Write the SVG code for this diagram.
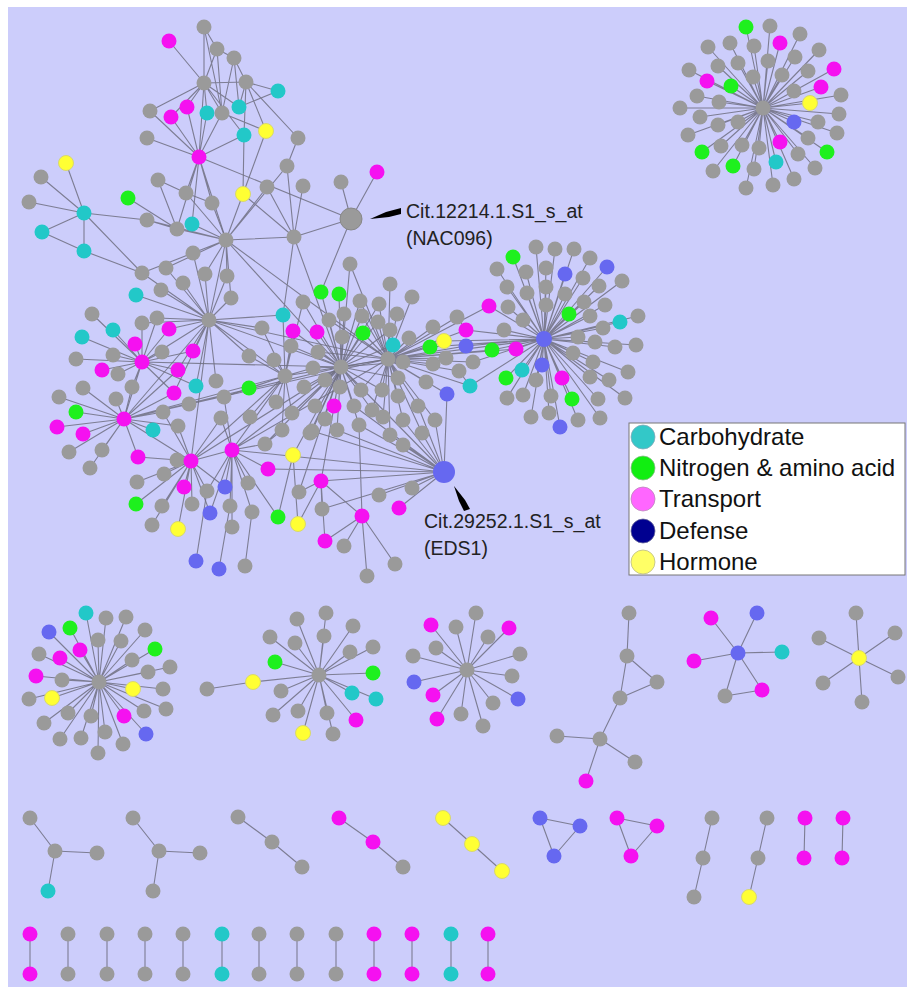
<svg xmlns="http://www.w3.org/2000/svg" width="907" height="987" viewBox="0 0 907 987">
<style>
.e{stroke:#6f6f80;stroke-width:1.1;fill:none;stroke-opacity:.85}
.g{fill:#9a9a9a}
.c{fill:#22c8c8}
.n{fill:#1ef01e}
.m{fill:#f511f0}
.b{fill:#6668f0}
.y{fill:#ffff33;stroke:#d8d870;stroke-width:1}
.t{font-family:"Liberation Sans",Arial,sans-serif;fill:#222}
.lt{font-family:"Liberation Sans",Arial,sans-serif;font-size:24px;fill:#111}
</style>
<rect x="0" y="0" width="907" height="987" fill="#fff"/>
<rect x="8" y="7" width="899" height="980" fill="#cccdfb"/>
<g id="connectors" class="e">
<path d="M204 27L204 83M204 27L217 49M204 27L222 113M169 41L204 83M217 49L234 58M217 49L204 83M217 49L222 113M234 58L246 82M234 58L222 113M234 58L239 107M204 83L246 82M204 83L187 107M204 83L207 113M204 83L222 113M204 83L239 107M204 83L150 111M204 83L244 135M246 82L278 91M246 82L239 107M246 82L244 135M246 82L266 131M239 107L278 91M150 111L199 157M187 107L199 157M171 117L199 157M207 113L199 157M222 113L199 157M147 138L199 157M244 135L199 157M204 83L199 157M244 135L243 194M266 131L243 194M222 113L266 131M298 138L246 82M298 138L287 166M171 117L204 83"/>
<path d="M199 157L186 193M199 157L212 203M199 157L226 240M199 157L351 219M199 157L177 229M199 157L192 224M84 213L66 163M84 213L41 177M84 213L29 202M84 213L42 232M84 213L84 251M84 213L147 220M84 213L142 273M42 232L84 251M84 251L142 273"/>
<path d="M147 220L177 229M147 220L226 240M158 180L177 229M128 198L177 229M186 193L226 240M212 203L226 240M177 229L226 240M192 224L226 240M243 194L226 240M267 187L226 240M294 237L226 240M193 253L226 240M205 274L226 240M227 276L226 240M231 298L226 240M209 320L226 240M166 268L226 240M142 273L226 240M287 166L226 240M243 194L294 237M267 187L294 237M303 186L294 237M287 166L294 237M351 219L294 237M294 237L341 367M294 237L283 315M186 193L212 203M158 180L186 193M351 219L341 182M351 219L377 172M351 219L321 292M350 264L341 367M350 264L388 359M226 240L341 367M226 240L388 359"/>
<path d="M209 320L231 298M209 320L183 283M209 320L161 290M209 320L136 295M209 320L142 273M209 320L166 268M209 320L193 253M209 320L205 274M209 320L227 276M209 320L262 328M209 320L193 351M209 320L169 329M209 320L157 318M209 320L142 323M209 320L216 381M209 320L196 386M209 320L174 393M209 320L178 370M209 320L249 356M209 320L285 376M209 320L341 367M209 320L388 359M209 320L124 419M209 320L191 461M209 320L142 362M209 320L283 315"/>
<path d="M142 362L135 344M142 362L113 330M142 362L82 337M142 362L92 314M142 362L76 359M142 362L102 370M142 362L118 374M142 362L113 355M142 362L142 323M142 362L157 318M142 362L169 329M142 362L162 352M142 362L178 370M142 362L193 351M142 362L174 393M142 362L132 387M142 362L124 419M142 362L196 386M142 362L341 367"/>
<path d="M124 419L59 397M124 419L76 412M124 419L57 427M124 419L83 434M124 419L69 452M124 419L102 450M124 419L90 468M124 419L138 457M124 419L116 399M124 419L132 387M124 419L83 388M124 419L163 412M124 419L189 404M124 419L178 426M124 419L153 430M124 419L191 461M124 419L285 376M124 419L341 367M124 419L388 359M124 419L178 370M124 419L174 393"/>
<path d="M191 461L164 474M191 461L184 487M191 461L207 491M191 461L225 487M191 461L192 504M191 461L162 506M191 461L136 504M191 461L152 525M191 461L178 529M191 461L177 460M191 461L138 457M191 461L232 450M191 461L221 418M191 461L178 426M191 461L163 412M191 461L137 482M191 461L341 367M191 461L285 376M191 461L210 513"/>
<path d="M232 450L265 444M232 450L248 483M232 450L230 506M232 450L210 513M232 450L252 512M232 450L232 527M232 450L207 491M232 450L225 487M232 450L221 418M232 450L224 397M232 450L285 376M232 450L341 367M232 450L388 359M232 450L444 472M232 450L268 469M232 450L278 517M196 561L207 491M219 569L230 506M245 566L252 512"/>
<path d="M285 376L249 356M285 376L274 360M285 376L262 328M285 376L276 402M285 376L292 413M285 376L282 430M285 376L250 417M285 376L224 397M285 376L249 388M285 376L291 346M285 376L293 331M285 376L313 368M285 376L341 367M285 376L388 359M285 376L303 302M285 376L283 315M282 430L265 444M293 455L341 367M293 455L278 517M293 455L298 524M268 469L444 472M299 492L341 367M310 433L341 367"/>
<path d="M341 367L360 301M341 367L379 304M341 367L329 320M341 367L344 314M341 367L362 316M341 367L378 322M341 367L317 332M341 367L342 337M341 367L363 333M341 367L390 330M341 367L318 352M341 367L304 387M341 367L325 380M341 367L315 406M341 367L334 406M341 367L340 387M341 367L361 390M341 367L382 390M341 367L354 406M341 367L372 410M341 367L325 417M341 367L359 425M341 367L312 431M341 367L337 430M341 367L321 292M341 367L339 294M341 367L303 302M341 367L293 331M341 367L291 346M341 367L313 368M341 367L292 413M341 367L388 359M341 367L393 345M341 367L403 362M341 367L398 378M341 367L265 444M341 367L444 472M341 367L321 481"/>
<path d="M388 359L360 301M388 359L379 304M388 359L390 284M388 359L412 297M388 359L362 316M388 359L378 322M388 359L397 314M388 359L363 333M388 359L390 330M388 359L409 338M388 359L433 327M388 359L457 317M388 359L466 330M388 359L393 345M388 359L430 347M388 359L444 341M388 359L466 346M388 359L403 362M388 359L433 364M388 359L446 358M388 359L459 371M388 359L473 362M388 359L398 378M388 359L426 382M388 359L470 386M388 359L447 394M388 359L361 390M388 359L382 390M388 359L398 396M388 359L372 410M388 359L418 406M388 359L383 417M388 359L403 420M388 359L435 420M388 359L390 435M388 359L422 433M388 359L544 339M388 359L492 350M388 359L516 349M388 359L489 306M388 359L329 320M388 359L318 352"/>
<path d="M444 472L379 495M444 472L412 488M444 472L399 508M444 472L403 445M444 472L422 433M444 472L435 420M444 472L403 420M444 472L359 425M444 472L337 430M444 472L312 431M444 472L321 481M444 472L447 394M444 472L418 406M444 472L322 509M444 472L390 435M444 472L354 406M321 481L322 509M321 481L325 541M321 481L362 516M321 481L299 492M362 516L325 541M362 516L344 546M362 516L395 564M362 516L367 576M362 516L359 425M298 524L321 481"/>
<path d="M544 339L536 247M544 339L555 249M544 339L574 249M544 339L590 258M544 339L497 269M544 339L526 272M544 339L546 268M544 339L583 278M544 339L599 286M544 339L622 281M544 339L507 287M544 339L527 293M544 339L546 287M544 339L565 294M544 339L584 302M544 339L605 305M544 339L508 307M544 339L546 305M544 339L590 316M544 339L603 328M544 339L638 316M544 339L636 345M544 339L523 320M544 339L504 330M544 339L578 337M544 339L595 342M544 339L615 347M544 339L573 353M544 339L593 362M544 339L628 372M544 339L590 377M544 339L609 380M544 339L507 398M544 339L523 395M544 339L536 380M544 339L551 396M544 339L598 399M544 339L625 398M544 339L531 417M544 339L549 413M544 339L578 420M544 339L600 418M544 339L513 257M544 339L565 274M544 339L607 267M544 339L569 314M544 339L620 322M544 339L506 378M544 339L522 370M544 339L542 365M544 339L562 378M544 339L572 399M544 339L560 427M544 339L492 350M544 339L516 349M544 339L466 330M544 339L489 306M544 339L444 341M544 339L430 347M544 339L466 346M544 339L473 362M544 339L470 386M466 330L457 317M470 386L459 371"/>
<path d="M763 108L746 27M763 108L770 26M763 108L800 34M763 108L780 43M763 108L819 50M763 108L754 46M763 108L730 43M763 108L708 47M763 108L834 69M763 108L795 57M763 108L768 61M763 108L738 63M763 108L718 66M763 108L689 70M763 108L782 75M763 108L808 71M763 108L753 77M763 108L707 81M763 108L731 86M763 108L821 87M763 108L794 91M763 108L841 95M763 108L697 96M763 108L719 102M763 108L810 103M763 108L680 108M763 108L839 114M763 108L700 117M763 108L818 122M763 108L794 122M763 108L738 122M763 108L718 125M763 108L688 135M763 108L837 133M763 108L808 138M763 108L780 142M763 108L742 145M763 108L759 148M763 108L721 146M763 108L702 152M763 108L827 152M763 108L798 154M763 108L776 162M763 108L815 168M763 108L733 166M763 108L754 169M763 108L713 171M763 108L794 179M763 108L773 185M763 108L746 188"/>
<path d="M99 682L86 613M99 682L106 618M99 682L126 617M99 682L145 630M99 682L155 649M99 682L170 667M99 682L163 689M99 682L166 709M99 682L146 734M99 682L123 744M99 682L98 753M99 682L81 738M99 682L60 739M99 682L44 723M99 682L29 699M99 682L36 676M99 682L39 654M99 682L49 632M99 682L70 628M99 682L98 640M99 682L121 641M99 682L132 660M99 682L148 672M99 682L133 689M99 682L144 711M99 682L124 716M99 682L105 732M99 682L91 716M99 682L68 713M99 682L52 698M99 682L62 680M99 682L60 658M99 682L80 650"/>
<path d="M319 675L275 662M319 675L270 637M319 675L297 619M319 675L326 613M319 675L353 626M319 675L373 647M319 675L373 673M319 675L376 699M319 675L356 720M319 675L333 734M319 675L303 733M319 675L273 715M319 675L295 643M319 675L324 636M319 675L350 652M319 675L352 693M319 675L327 713M319 675L298 711M319 675L281 691M319 675L253 682M253 682L207 689"/>
<path d="M467 670L476 613M467 670L509 628M467 670L488 637M467 670L456 627M467 670L520 654M467 670L512 676M467 670L518 699M467 670L493 703M467 670L483 726M467 670L461 714M467 670L431 625M467 670L413 656M467 670L436 648M467 670L414 682M467 670L433 695M467 670L437 719"/>
<path d="M629 613L627 656M627 656L657 682M627 656L620 698M657 682L620 698M620 698L600 739M600 739L557 736M600 739L635 762M600 739L586 781"/>
<path d="M738 653L711 618M738 653L757 613M738 653L782 652M738 653L762 690M738 653L725 696M738 653L694 661M725 696L762 690"/>
<path d="M859 658L856 613M859 658L895 633M859 658L898 677M859 658L862 702M859 658L823 683M859 658L819 638"/>
<path d="M30 818L55 851M55 851L97 853M55 851L48 891M133 818L159 851M159 851L200 853M159 851L153 891M238 817L272 842M272 842L302 867M339 818L373 842M373 842L403 867M443 818L472 844M472 844L502 871M540 818L580 826M580 826L554 856M554 856L540 818M617 818L657 826M657 826L631 856M631 856L617 818M712 818L703 858M703 858L694 897M767 818L758 858M758 858L749 897M805 818L804 858M843 818L842 858"/>
<path d="M30 934V974M68 934V974M107 934V974M145 934V974M183 934V974M222 934V974M259 934V974M297 934V974M336 934V974M374 934V974M412 934V974M451 934V974M488 934V974"/>
</g>
<g id="n1"><circle class="g" cx="204" cy="27" r="7.5"/></g>
<g id="n2"><circle class="m" cx="169" cy="41" r="7.5"/></g>
<g id="n3"><circle class="g" cx="217" cy="49" r="7.5"/></g>
<g id="n4"><circle class="g" cx="234" cy="58" r="7.5"/></g>
<g id="hubA"><circle class="g" cx="204" cy="83" r="7.5"/></g>
<g id="n6"><circle class="g" cx="246" cy="82" r="7.5"/></g>
<g id="n7"><circle class="c" cx="278" cy="91" r="7.5"/></g>
<g id="n8"><circle class="g" cx="150" cy="111" r="7.5"/></g>
<g id="n9"><circle class="m" cx="187" cy="107" r="7.5"/></g>
<g id="n10"><circle class="m" cx="171" cy="117" r="7.5"/></g>
<g id="n11"><circle class="c" cx="207" cy="113" r="7.5"/></g>
<g id="n12"><circle class="g" cx="222" cy="113" r="7.5"/></g>
<g id="n13"><circle class="c" cx="239" cy="107" r="7.5"/></g>
<g id="n14"><circle class="c" cx="244" cy="135" r="7.5"/></g>
<g id="n15"><circle class="y" cx="266" cy="131" r="7.5"/></g>
<g id="n16"><circle class="g" cx="147" cy="138" r="7.5"/></g>
<g id="hubB"><circle class="m" cx="199" cy="157" r="7.5"/></g>
<g id="n18"><circle class="g" cx="298" cy="138" r="7.5"/></g>
<g id="n19"><circle class="y" cx="66" cy="163" r="7.5"/></g>
<g id="n20"><circle class="g" cx="41" cy="177" r="7.5"/></g>
<g id="n21"><circle class="g" cx="29" cy="202" r="7.5"/></g>
<g id="hubC"><circle class="c" cx="84" cy="213" r="7.5"/></g>
<g id="n23"><circle class="c" cx="42" cy="232" r="7.5"/></g>
<g id="n24"><circle class="c" cx="84" cy="251" r="7.5"/></g>
<g id="n25"><circle class="n" cx="128" cy="198" r="7.5"/></g>
<g id="n26"><circle class="g" cx="158" cy="180" r="7.5"/></g>
<g id="n27"><circle class="g" cx="186" cy="193" r="7.5"/></g>
<g id="n28"><circle class="g" cx="212" cy="203" r="7.5"/></g>
<g id="n29"><circle class="g" cx="147" cy="220" r="7.5"/></g>
<g id="n30"><circle class="g" cx="177" cy="229" r="7.5"/></g>
<g id="n31"><circle class="c" cx="192" cy="224" r="7.5"/></g>
<g id="hubD"><circle class="g" cx="226" cy="240" r="7.5"/></g>
<g id="n33"><circle class="y" cx="243" cy="194" r="7.5"/></g>
<g id="n34"><circle class="g" cx="267" cy="187" r="7.5"/></g>
<g id="n35"><circle class="g" cx="287" cy="166" r="7.5"/></g>
<g id="n36"><circle class="g" cx="303" cy="186" r="7.5"/></g>
<g id="n37"><circle class="g" cx="294" cy="237" r="7.5"/></g>
<g id="n38"><circle class="g" cx="193" cy="253" r="7.5"/></g>
<g id="n39"><circle class="g" cx="166" cy="268" r="7.5"/></g>
<g id="n40"><circle class="g" cx="142" cy="273" r="7.5"/></g>
<g id="n41"><circle class="g" cx="205" cy="274" r="7.5"/></g>
<g id="n42"><circle class="g" cx="227" cy="276" r="7.5"/></g>
<g id="n43"><circle class="g" cx="183" cy="283" r="7.5"/></g>
<g id="n44"><circle class="g" cx="161" cy="290" r="7.5"/></g>
<g id="n45"><circle class="c" cx="136" cy="295" r="7.5"/></g>
<g id="n46"><circle class="g" cx="231" cy="298" r="7.5"/></g>
<g id="hubE"><circle class="g" cx="209" cy="320" r="7.5"/></g>
<g id="nac096"><circle class="g" cx="351" cy="219" r="11" stroke="#888" stroke-width="1"/></g>
<g id="n48"><circle class="g" cx="341" cy="182" r="7.5"/></g>
<g id="n49"><circle class="m" cx="377" cy="172" r="7.5"/></g>
<g id="n50"><circle class="g" cx="350" cy="264" r="7.5"/></g>
<g id="n51"><circle class="n" cx="321" cy="292" r="7.5"/></g>
<g id="n52"><circle class="n" cx="339" cy="294" r="7.5"/></g>
<g id="n53"><circle class="g" cx="303" cy="302" r="7.5"/></g>
<g id="n54"><circle class="c" cx="283" cy="315" r="7.5"/></g>
<g id="n55"><circle class="g" cx="262" cy="328" r="7.5"/></g>
<g id="n56"><circle class="m" cx="293" cy="331" r="7.5"/></g>
<g id="n58"><circle class="g" cx="92" cy="314" r="7.5"/></g>
<g id="n59"><circle class="c" cx="113" cy="330" r="7.5"/></g>
<g id="n60"><circle class="c" cx="82" cy="337" r="7.5"/></g>
<g id="n61"><circle class="g" cx="142" cy="323" r="7.5"/></g>
<g id="n62"><circle class="g" cx="157" cy="318" r="7.5"/></g>
<g id="n63"><circle class="m" cx="169" cy="329" r="7.5"/></g>
<g id="n64"><circle class="m" cx="135" cy="344" r="7.5"/></g>
<g id="n65"><circle class="m" cx="193" cy="351" r="7.5"/></g>
<g id="n66"><circle class="g" cx="76" cy="359" r="7.5"/></g>
<g id="n67"><circle class="g" cx="113" cy="355" r="7.5"/></g>
<g id="hubF"><circle class="m" cx="142" cy="362" r="7.5"/></g>
<g id="n69"><circle class="g" cx="162" cy="352" r="7.5"/></g>
<g id="n70"><circle class="m" cx="178" cy="370" r="7.5"/></g>
<g id="n71"><circle class="m" cx="102" cy="370" r="7.5"/></g>
<g id="n72"><circle class="g" cx="118" cy="374" r="7.5"/></g>
<g id="n73"><circle class="g" cx="83" cy="388" r="7.5"/></g>
<g id="n74"><circle class="g" cx="132" cy="387" r="7.5"/></g>
<g id="n75"><circle class="m" cx="174" cy="393" r="7.5"/></g>
<g id="n76"><circle class="c" cx="196" cy="386" r="7.5"/></g>
<g id="n77"><circle class="g" cx="216" cy="381" r="7.5"/></g>
<g id="n78"><circle class="g" cx="59" cy="397" r="7.5"/></g>
<g id="n79"><circle class="g" cx="116" cy="399" r="7.5"/></g>
<g id="n80"><circle class="n" cx="76" cy="412" r="7.5"/></g>
<g id="hubG"><circle class="m" cx="124" cy="419" r="7.5"/></g>
<g id="n82"><circle class="g" cx="163" cy="412" r="7.5"/></g>
<g id="n83"><circle class="g" cx="189" cy="404" r="7.5"/></g>
<g id="n84"><circle class="g" cx="224" cy="397" r="7.5"/></g>
<g id="n85"><circle class="m" cx="57" cy="427" r="7.5"/></g>
<g id="n86"><circle class="m" cx="83" cy="434" r="7.5"/></g>
<g id="n87"><circle class="c" cx="153" cy="430" r="7.5"/></g>
<g id="n88"><circle class="g" cx="178" cy="426" r="7.5"/></g>
<g id="n89"><circle class="g" cx="221" cy="418" r="7.5"/></g>
<g id="n90"><circle class="g" cx="69" cy="452" r="7.5"/></g>
<g id="n91"><circle class="g" cx="102" cy="450" r="7.5"/></g>
<g id="n92"><circle class="g" cx="90" cy="468" r="7.5"/></g>
<g id="n93"><circle class="m" cx="138" cy="457" r="7.5"/></g>
<g id="n94"><circle class="g" cx="177" cy="460" r="7.5"/></g>
<g id="hubH"><circle class="m" cx="191" cy="461" r="7.5"/></g>
<g id="hubI"><circle class="m" cx="232" cy="450" r="7.5"/></g>
<g id="n97"><circle class="g" cx="265" cy="444" r="7.5"/></g>
<g id="n99"><circle class="g" cx="249" cy="356" r="7.5"/></g>
<g id="n100"><circle class="g" cx="274" cy="360" r="7.5"/></g>
<g id="hubJ"><circle class="g" cx="285" cy="376" r="7.5"/></g>
<g id="n102"><circle class="g" cx="250" cy="417" r="7.5"/></g>
<g id="n103"><circle class="g" cx="276" cy="402" r="7.5"/></g>
<g id="n104"><circle class="g" cx="292" cy="413" r="7.5"/></g>
<g id="n105"><circle class="g" cx="282" cy="430" r="7.5"/></g>
<g id="n106"><circle class="n" cx="249" cy="388" r="7.5"/></g>
<g id="n109"><circle class="g" cx="291" cy="346" r="7.5"/></g>
<g id="n110"><circle class="g" cx="313" cy="368" r="7.5"/></g>
<g id="n111"><circle class="g" cx="310" cy="433" r="7.5"/></g>
<g id="n112"><circle class="y" cx="293" cy="455" r="7.5"/></g>
<g id="n113"><circle class="m" cx="268" cy="469" r="7.5"/></g>
<g id="n114"><circle class="g" cx="299" cy="492" r="7.5"/></g>
<g id="n115"><circle class="g" cx="137" cy="482" r="7.5"/></g>
<g id="n116"><circle class="g" cx="164" cy="474" r="7.5"/></g>
<g id="n117"><circle class="m" cx="184" cy="487" r="7.5"/></g>
<g id="n118"><circle class="g" cx="207" cy="491" r="7.5"/></g>
<g id="n119"><circle class="b" cx="225" cy="487" r="7.5"/></g>
<g id="n120"><circle class="g" cx="248" cy="483" r="7.5"/></g>
<g id="n121"><circle class="g" cx="230" cy="506" r="7.5"/></g>
<g id="n122"><circle class="g" cx="192" cy="504" r="7.5"/></g>
<g id="n123"><circle class="g" cx="162" cy="506" r="7.5"/></g>
<g id="n124"><circle class="n" cx="136" cy="504" r="7.5"/></g>
<g id="n125"><circle class="b" cx="210" cy="513" r="7.5"/></g>
<g id="n126"><circle class="g" cx="252" cy="512" r="7.5"/></g>
<g id="n127"><circle class="g" cx="152" cy="525" r="7.5"/></g>
<g id="n128"><circle class="y" cx="178" cy="529" r="7.5"/></g>
<g id="n129"><circle class="g" cx="232" cy="527" r="7.5"/></g>
<g id="n130"><circle class="n" cx="278" cy="517" r="7.5"/></g>
<g id="n131"><circle class="y" cx="298" cy="524" r="7.5"/></g>
<g id="n132"><circle class="b" cx="196" cy="561" r="7.5"/></g>
<g id="n133"><circle class="b" cx="219" cy="569" r="7.5"/></g>
<g id="n134"><circle class="g" cx="245" cy="566" r="7.5"/></g>
<g id="hubK"><circle class="g" cx="341" cy="367" r="7.5"/></g>
<g id="hubL"><circle class="g" cx="388" cy="359" r="7.5"/></g>
<g id="n141"><circle class="g" cx="360" cy="301" r="7.5"/></g>
<g id="n142"><circle class="g" cx="379" cy="304" r="7.5"/></g>
<g id="n143"><circle class="g" cx="390" cy="284" r="7.5"/></g>
<g id="n144"><circle class="g" cx="412" cy="297" r="7.5"/></g>
<g id="n145"><circle class="g" cx="329" cy="320" r="7.5"/></g>
<g id="n146"><circle class="g" cx="344" cy="314" r="7.5"/></g>
<g id="n147"><circle class="g" cx="362" cy="316" r="7.5"/></g>
<g id="n148"><circle class="g" cx="378" cy="322" r="7.5"/></g>
<g id="n149"><circle class="g" cx="397" cy="314" r="7.5"/></g>
<g id="n150"><circle class="m" cx="317" cy="332" r="7.5"/></g>
<g id="n151"><circle class="g" cx="342" cy="337" r="7.5"/></g>
<g id="n152"><circle class="n" cx="363" cy="333" r="7.5"/></g>
<g id="n153"><circle class="g" cx="390" cy="330" r="7.5"/></g>
<g id="n154"><circle class="g" cx="409" cy="338" r="7.5"/></g>
<g id="n155"><circle class="g" cx="433" cy="327" r="7.5"/></g>
<g id="n156"><circle class="g" cx="457" cy="317" r="7.5"/></g>
<g id="n157"><circle class="m" cx="466" cy="330" r="7.5"/></g>
<g id="n158"><circle class="m" cx="489" cy="306" r="7.5"/></g>
<g id="n159"><circle class="c" cx="393" cy="345" r="7.5"/></g>
<g id="n160"><circle class="n" cx="430" cy="347" r="7.5"/></g>
<g id="n161"><circle class="y" cx="444" cy="341" r="7.5"/></g>
<g id="n162"><circle class="b" cx="466" cy="346" r="7.5"/></g>
<g id="n163"><circle class="n" cx="492" cy="350" r="7.5"/></g>
<g id="n164"><circle class="m" cx="516" cy="349" r="7.5"/></g>
<g id="n165"><circle class="g" cx="318" cy="352" r="7.5"/></g>
<g id="n166"><circle class="g" cx="403" cy="362" r="7.5"/></g>
<g id="n167"><circle class="g" cx="433" cy="364" r="7.5"/></g>
<g id="n168"><circle class="g" cx="446" cy="358" r="7.5"/></g>
<g id="n169"><circle class="g" cx="459" cy="371" r="7.5"/></g>
<g id="n170"><circle class="g" cx="473" cy="362" r="7.5"/></g>
<g id="n172"><circle class="g" cx="304" cy="387" r="7.5"/></g>
<g id="n173"><circle class="g" cx="325" cy="380" r="7.5"/></g>
<g id="n174"><circle class="g" cx="398" cy="378" r="7.5"/></g>
<g id="n175"><circle class="g" cx="426" cy="382" r="7.5"/></g>
<g id="n176"><circle class="c" cx="470" cy="386" r="7.5"/></g>
<g id="n177"><circle class="b" cx="447" cy="394" r="7.5"/></g>
<g id="n178"><circle class="g" cx="315" cy="406" r="7.5"/></g>
<g id="n179"><circle class="m" cx="334" cy="406" r="7.5"/></g>
<g id="n180"><circle class="g" cx="340" cy="387" r="7.5"/></g>
<g id="n181"><circle class="g" cx="361" cy="390" r="7.5"/></g>
<g id="n182"><circle class="g" cx="382" cy="390" r="7.5"/></g>
<g id="n183"><circle class="g" cx="398" cy="396" r="7.5"/></g>
<g id="n184"><circle class="g" cx="354" cy="406" r="7.5"/></g>
<g id="n185"><circle class="g" cx="372" cy="410" r="7.5"/></g>
<g id="n186"><circle class="g" cx="418" cy="406" r="7.5"/></g>
<g id="n187"><circle class="g" cx="325" cy="419" r="7.5"/></g>
<g id="n188"><circle class="g" cx="359" cy="425" r="7.5"/></g>
<g id="n189"><circle class="g" cx="383" cy="417" r="7.5"/></g>
<g id="n190"><circle class="g" cx="403" cy="420" r="7.5"/></g>
<g id="n191"><circle class="g" cx="312" cy="431" r="7.5"/></g>
<g id="n192"><circle class="g" cx="337" cy="430" r="7.5"/></g>
<g id="n193"><circle class="g" cx="435" cy="420" r="7.5"/></g>
<g id="n194"><circle class="g" cx="390" cy="435" r="7.5"/></g>
<g id="n195"><circle class="g" cx="422" cy="433" r="7.5"/></g>
<g id="n198"><circle class="n" cx="506" cy="378" r="7.5"/></g>
<g id="n199"><circle class="c" cx="522" cy="370" r="7.5"/></g>
<g id="n200"><circle class="b" cx="542" cy="365" r="7.5"/></g>
<g id="n201"><circle class="m" cx="562" cy="378" r="7.5"/></g>
<g id="n202"><circle class="n" cx="572" cy="399" r="7.5"/></g>
<g id="n203"><circle class="b" cx="560" cy="427" r="7.5"/></g>
<g id="n205"><circle class="n" cx="513" cy="257" r="7.5"/></g>
<g id="n206"><circle class="b" cx="565" cy="274" r="7.5"/></g>
<g id="n207"><circle class="b" cx="607" cy="267" r="7.5"/></g>
<g id="n208"><circle class="n" cx="569" cy="314" r="7.5"/></g>
<g id="n209"><circle class="c" cx="620" cy="322" r="7.5"/></g>
<g id="r1"><circle class="g" cx="536" cy="247" r="7.5"/></g>
<g id="r2"><circle class="g" cx="555" cy="249" r="7.5"/></g>
<g id="r3"><circle class="g" cx="574" cy="249" r="7.5"/></g>
<g id="r4"><circle class="g" cx="590" cy="258" r="7.5"/></g>
<g id="r5"><circle class="g" cx="497" cy="269" r="7.5"/></g>
<g id="r6"><circle class="g" cx="526" cy="272" r="7.5"/></g>
<g id="r7"><circle class="g" cx="546" cy="268" r="7.5"/></g>
<g id="r8"><circle class="g" cx="583" cy="278" r="7.5"/></g>
<g id="r9"><circle class="g" cx="599" cy="286" r="7.5"/></g>
<g id="r10"><circle class="g" cx="622" cy="281" r="7.5"/></g>
<g id="r11"><circle class="g" cx="507" cy="287" r="7.5"/></g>
<g id="r12"><circle class="g" cx="527" cy="293" r="7.5"/></g>
<g id="r13"><circle class="g" cx="546" cy="287" r="7.5"/></g>
<g id="r14"><circle class="g" cx="565" cy="294" r="7.5"/></g>
<g id="r15"><circle class="g" cx="584" cy="302" r="7.5"/></g>
<g id="r16"><circle class="g" cx="605" cy="305" r="7.5"/></g>
<g id="r17"><circle class="g" cx="508" cy="307" r="7.5"/></g>
<g id="r18"><circle class="g" cx="546" cy="305" r="7.5"/></g>
<g id="r19"><circle class="g" cx="590" cy="316" r="7.5"/></g>
<g id="r20"><circle class="g" cx="603" cy="328" r="7.5"/></g>
<g id="r21"><circle class="g" cx="638" cy="316" r="7.5"/></g>
<g id="r22"><circle class="g" cx="636" cy="345" r="7.5"/></g>
<g id="r23"><circle class="g" cx="523" cy="320" r="7.5"/></g>
<g id="r24"><circle class="g" cx="504" cy="330" r="7.5"/></g>
<g id="r25"><circle class="g" cx="578" cy="337" r="7.5"/></g>
<g id="r26"><circle class="g" cx="595" cy="342" r="7.5"/></g>
<g id="r27"><circle class="g" cx="615" cy="347" r="7.5"/></g>
<g id="r28"><circle class="g" cx="573" cy="353" r="7.5"/></g>
<g id="r29"><circle class="g" cx="593" cy="362" r="7.5"/></g>
<g id="r30"><circle class="g" cx="628" cy="372" r="7.5"/></g>
<g id="r31"><circle class="g" cx="590" cy="377" r="7.5"/></g>
<g id="r32"><circle class="g" cx="609" cy="380" r="7.5"/></g>
<g id="r33"><circle class="g" cx="507" cy="398" r="7.5"/></g>
<g id="r34"><circle class="g" cx="523" cy="395" r="7.5"/></g>
<g id="r35"><circle class="g" cx="536" cy="380" r="7.5"/></g>
<g id="r36"><circle class="g" cx="551" cy="396" r="7.5"/></g>
<g id="r38"><circle class="g" cx="598" cy="399" r="7.5"/></g>
<g id="r39"><circle class="g" cx="625" cy="398" r="7.5"/></g>
<g id="r40"><circle class="g" cx="531" cy="417" r="7.5"/></g>
<g id="r41"><circle class="g" cx="549" cy="413" r="7.5"/></g>
<g id="r42"><circle class="g" cx="578" cy="420" r="7.5"/></g>
<g id="r43"><circle class="g" cx="600" cy="418" r="7.5"/></g>
<g id="hubM"><circle class="b" cx="544" cy="339" r="8"/></g>
<g id="n210"><circle class="m" cx="321" cy="481" r="7.5"/></g>
<g id="n212"><circle class="g" cx="322" cy="509" r="7.5"/></g>
<g id="n213"><circle class="m" cx="325" cy="541" r="7.5"/></g>
<g id="n214"><circle class="g" cx="344" cy="546" r="7.5"/></g>
<g id="n215"><circle class="m" cx="362" cy="516" r="7.5"/></g>
<g id="n216"><circle class="g" cx="379" cy="495" r="7.5"/></g>
<g id="n217"><circle class="g" cx="412" cy="488" r="7.5"/></g>
<g id="n218"><circle class="m" cx="399" cy="508" r="7.5"/></g>
<g id="n219"><circle class="g" cx="395" cy="564" r="7.5"/></g>
<g id="n220"><circle class="g" cx="367" cy="576" r="7.5"/></g>
<g id="n222"><circle class="g" cx="403" cy="445" r="7.5"/></g>
<g id="eds1"><circle class="b" cx="444" cy="472" r="11"/></g>
<g id="tr0"><circle class="g" cx="763" cy="108" r="7.5"/></g>
<g id="tr1"><circle class="n" cx="746" cy="27" r="7.5"/></g>
<g id="tr2"><circle class="g" cx="770" cy="26" r="7.5"/></g>
<g id="tr3"><circle class="g" cx="800" cy="34" r="7.5"/></g>
<g id="tr4"><circle class="m" cx="780" cy="43" r="7.5"/></g>
<g id="tr5"><circle class="g" cx="819" cy="50" r="7.5"/></g>
<g id="tr6"><circle class="g" cx="754" cy="46" r="7.5"/></g>
<g id="tr7"><circle class="g" cx="730" cy="43" r="7.5"/></g>
<g id="tr8"><circle class="g" cx="708" cy="47" r="7.5"/></g>
<g id="tr9"><circle class="m" cx="834" cy="69" r="7.5"/></g>
<g id="tr10"><circle class="g" cx="795" cy="57" r="7.5"/></g>
<g id="tr11"><circle class="g" cx="768" cy="61" r="7.5"/></g>
<g id="tr12"><circle class="g" cx="738" cy="63" r="7.5"/></g>
<g id="tr13"><circle class="g" cx="718" cy="66" r="7.5"/></g>
<g id="tr14"><circle class="g" cx="689" cy="70" r="7.5"/></g>
<g id="tr15"><circle class="g" cx="782" cy="75" r="7.5"/></g>
<g id="tr16"><circle class="g" cx="808" cy="71" r="7.5"/></g>
<g id="tr17"><circle class="g" cx="753" cy="77" r="7.5"/></g>
<g id="tr18"><circle class="m" cx="707" cy="81" r="7.5"/></g>
<g id="tr19"><circle class="n" cx="731" cy="86" r="7.5"/></g>
<g id="tr20"><circle class="m" cx="821" cy="87" r="7.5"/></g>
<g id="tr21"><circle class="g" cx="794" cy="91" r="7.5"/></g>
<g id="tr22"><circle class="g" cx="841" cy="95" r="7.5"/></g>
<g id="tr23"><circle class="g" cx="697" cy="96" r="7.5"/></g>
<g id="tr24"><circle class="g" cx="719" cy="102" r="7.5"/></g>
<g id="tr25"><circle class="y" cx="810" cy="103" r="7.5"/></g>
<g id="tr26"><circle class="g" cx="680" cy="108" r="7.5"/></g>
<g id="tr27"><circle class="g" cx="839" cy="114" r="7.5"/></g>
<g id="tr28"><circle class="g" cx="700" cy="117" r="7.5"/></g>
<g id="tr29"><circle class="g" cx="818" cy="122" r="7.5"/></g>
<g id="tr30"><circle class="b" cx="794" cy="122" r="7.5"/></g>
<g id="tr31"><circle class="g" cx="738" cy="122" r="7.5"/></g>
<g id="tr32"><circle class="g" cx="718" cy="125" r="7.5"/></g>
<g id="tr33"><circle class="g" cx="688" cy="135" r="7.5"/></g>
<g id="tr34"><circle class="g" cx="837" cy="133" r="7.5"/></g>
<g id="tr35"><circle class="g" cx="808" cy="138" r="7.5"/></g>
<g id="tr36"><circle class="m" cx="780" cy="142" r="7.5"/></g>
<g id="tr37"><circle class="g" cx="742" cy="145" r="7.5"/></g>
<g id="tr38"><circle class="g" cx="759" cy="148" r="7.5"/></g>
<g id="tr39"><circle class="g" cx="721" cy="146" r="7.5"/></g>
<g id="tr40"><circle class="n" cx="702" cy="152" r="7.5"/></g>
<g id="tr41"><circle class="n" cx="827" cy="152" r="7.5"/></g>
<g id="tr42"><circle class="g" cx="798" cy="154" r="7.5"/></g>
<g id="tr43"><circle class="c" cx="776" cy="162" r="7.5"/></g>
<g id="tr44"><circle class="g" cx="815" cy="168" r="7.5"/></g>
<g id="tr45"><circle class="n" cx="733" cy="166" r="7.5"/></g>
<g id="tr46"><circle class="g" cx="754" cy="169" r="7.5"/></g>
<g id="tr47"><circle class="g" cx="713" cy="171" r="7.5"/></g>
<g id="tr48"><circle class="g" cx="794" cy="179" r="7.5"/></g>
<g id="tr49"><circle class="g" cx="773" cy="185" r="7.5"/></g>
<g id="tr50"><circle class="g" cx="746" cy="188" r="7.5"/></g>
<g id="s1_0"><circle class="g" cx="99" cy="682" r="7.5"/></g>
<g id="s1_1"><circle class="c" cx="86" cy="613" r="7.5"/></g>
<g id="s1_2"><circle class="g" cx="106" cy="618" r="7.5"/></g>
<g id="s1_3"><circle class="g" cx="126" cy="617" r="7.5"/></g>
<g id="s1_4"><circle class="g" cx="145" cy="630" r="7.5"/></g>
<g id="s1_5"><circle class="n" cx="155" cy="649" r="7.5"/></g>
<g id="s1_6"><circle class="g" cx="170" cy="667" r="7.5"/></g>
<g id="s1_7"><circle class="g" cx="163" cy="689" r="7.5"/></g>
<g id="s1_8"><circle class="g" cx="166" cy="709" r="7.5"/></g>
<g id="s1_9"><circle class="b" cx="146" cy="734" r="7.5"/></g>
<g id="s1_10"><circle class="g" cx="123" cy="744" r="7.5"/></g>
<g id="s1_11"><circle class="g" cx="98" cy="753" r="7.5"/></g>
<g id="s1_12"><circle class="g" cx="81" cy="738" r="7.5"/></g>
<g id="s1_13"><circle class="g" cx="60" cy="739" r="7.5"/></g>
<g id="s1_14"><circle class="g" cx="44" cy="723" r="7.5"/></g>
<g id="s1_15"><circle class="g" cx="29" cy="699" r="7.5"/></g>
<g id="s1_16"><circle class="m" cx="36" cy="676" r="7.5"/></g>
<g id="s1_17"><circle class="g" cx="39" cy="654" r="7.5"/></g>
<g id="s1_18"><circle class="b" cx="49" cy="632" r="7.5"/></g>
<g id="s1_19"><circle class="n" cx="70" cy="628" r="7.5"/></g>
<g id="s1_20"><circle class="g" cx="98" cy="640" r="7.5"/></g>
<g id="s1_21"><circle class="g" cx="121" cy="641" r="7.5"/></g>
<g id="s1_22"><circle class="g" cx="132" cy="660" r="7.5"/></g>
<g id="s1_23"><circle class="g" cx="148" cy="672" r="7.5"/></g>
<g id="s1_24"><circle class="y" cx="133" cy="689" r="7.5"/></g>
<g id="s1_25"><circle class="g" cx="144" cy="711" r="7.5"/></g>
<g id="s1_26"><circle class="m" cx="124" cy="716" r="7.5"/></g>
<g id="s1_27"><circle class="g" cx="105" cy="732" r="7.5"/></g>
<g id="s1_28"><circle class="g" cx="91" cy="716" r="7.5"/></g>
<g id="s1_29"><circle class="g" cx="68" cy="713" r="7.5"/></g>
<g id="s1_30"><circle class="y" cx="52" cy="698" r="7.5"/></g>
<g id="s1_31"><circle class="g" cx="62" cy="680" r="7.5"/></g>
<g id="s1_32"><circle class="m" cx="60" cy="658" r="7.5"/></g>
<g id="s1_33"><circle class="m" cx="80" cy="650" r="7.5"/></g>
<g id="s2_0"><circle class="g" cx="319" cy="675" r="7.5"/></g>
<g id="s2_1"><circle class="n" cx="275" cy="662" r="7.5"/></g>
<g id="s2_2"><circle class="g" cx="270" cy="637" r="7.5"/></g>
<g id="s2_3"><circle class="g" cx="297" cy="619" r="7.5"/></g>
<g id="s2_4"><circle class="g" cx="326" cy="613" r="7.5"/></g>
<g id="s2_5"><circle class="g" cx="353" cy="626" r="7.5"/></g>
<g id="s2_6"><circle class="g" cx="373" cy="647" r="7.5"/></g>
<g id="s2_7"><circle class="n" cx="373" cy="673" r="7.5"/></g>
<g id="s2_8"><circle class="c" cx="376" cy="699" r="7.5"/></g>
<g id="s2_9"><circle class="m" cx="356" cy="720" r="7.5"/></g>
<g id="s2_10"><circle class="g" cx="333" cy="734" r="7.5"/></g>
<g id="s2_11"><circle class="y" cx="303" cy="733" r="7.5"/></g>
<g id="s2_12"><circle class="g" cx="273" cy="715" r="7.5"/></g>
<g id="s2_13"><circle class="g" cx="295" cy="643" r="7.5"/></g>
<g id="s2_14"><circle class="g" cx="324" cy="636" r="7.5"/></g>
<g id="s2_15"><circle class="g" cx="350" cy="652" r="7.5"/></g>
<g id="s2_16"><circle class="c" cx="352" cy="693" r="7.5"/></g>
<g id="s2_17"><circle class="g" cx="327" cy="713" r="7.5"/></g>
<g id="s2_18"><circle class="g" cx="298" cy="711" r="7.5"/></g>
<g id="s2_19"><circle class="g" cx="281" cy="691" r="7.5"/></g>
<g id="s2_20"><circle class="y" cx="253" cy="682" r="7.5"/></g>
<g id="s2_21"><circle class="g" cx="207" cy="689" r="7.5"/></g>
<g id="s3_0"><circle class="g" cx="467" cy="670" r="7.5"/></g>
<g id="s3_1"><circle class="g" cx="476" cy="613" r="7.5"/></g>
<g id="s3_2"><circle class="m" cx="509" cy="628" r="7.5"/></g>
<g id="s3_3"><circle class="g" cx="488" cy="637" r="7.5"/></g>
<g id="s3_4"><circle class="g" cx="456" cy="627" r="7.5"/></g>
<g id="s3_5"><circle class="g" cx="520" cy="654" r="7.5"/></g>
<g id="s3_6"><circle class="g" cx="512" cy="676" r="7.5"/></g>
<g id="s3_7"><circle class="b" cx="518" cy="699" r="7.5"/></g>
<g id="s3_8"><circle class="g" cx="493" cy="703" r="7.5"/></g>
<g id="s3_9"><circle class="g" cx="483" cy="726" r="7.5"/></g>
<g id="s3_10"><circle class="g" cx="461" cy="714" r="7.5"/></g>
<g id="s3_11"><circle class="m" cx="431" cy="625" r="7.5"/></g>
<g id="s3_12"><circle class="g" cx="413" cy="656" r="7.5"/></g>
<g id="s3_13"><circle class="g" cx="436" cy="648" r="7.5"/></g>
<g id="s3_14"><circle class="b" cx="414" cy="682" r="7.5"/></g>
<g id="s3_15"><circle class="m" cx="433" cy="695" r="7.5"/></g>
<g id="s3_16"><circle class="m" cx="437" cy="719" r="7.5"/></g>
<g id="t1"><circle class="g" cx="629" cy="613" r="7.5"/></g>
<g id="t2"><circle class="g" cx="627" cy="656" r="7.5"/></g>
<g id="t3"><circle class="g" cx="657" cy="682" r="7.5"/></g>
<g id="t4"><circle class="g" cx="620" cy="698" r="7.5"/></g>
<g id="t5"><circle class="g" cx="600" cy="739" r="7.5"/></g>
<g id="t6"><circle class="g" cx="557" cy="736" r="7.5"/></g>
<g id="t7"><circle class="g" cx="635" cy="762" r="7.5"/></g>
<g id="t8"><circle class="m" cx="586" cy="781" r="7.5"/></g>
<g id="bs0"><circle class="b" cx="738" cy="653" r="7.5"/></g>
<g id="bs1"><circle class="m" cx="711" cy="618" r="7.5"/></g>
<g id="bs2"><circle class="b" cx="757" cy="613" r="7.5"/></g>
<g id="bs3"><circle class="c" cx="782" cy="652" r="7.5"/></g>
<g id="bs4"><circle class="m" cx="762" cy="690" r="7.5"/></g>
<g id="bs5"><circle class="g" cx="725" cy="696" r="7.5"/></g>
<g id="bs6"><circle class="m" cx="694" cy="661" r="7.5"/></g>
<g id="ys0"><circle class="y" cx="859" cy="658" r="7.5"/></g>
<g id="ys1"><circle class="g" cx="856" cy="613" r="7.5"/></g>
<g id="ys2"><circle class="g" cx="895" cy="633" r="7.5"/></g>
<g id="ys3"><circle class="g" cx="898" cy="677" r="7.5"/></g>
<g id="ys4"><circle class="g" cx="862" cy="702" r="7.5"/></g>
<g id="ys5"><circle class="g" cx="823" cy="683" r="7.5"/></g>
<g id="ys6"><circle class="g" cx="819" cy="638" r="7.5"/></g>
<g id="p1a"><circle class="g" cx="30" cy="818" r="7.5"/></g>
<g id="p1b"><circle class="g" cx="55" cy="851" r="7.5"/></g>
<g id="p1c"><circle class="g" cx="97" cy="853" r="7.5"/></g>
<g id="p1d"><circle class="c" cx="48" cy="891" r="7.5"/></g>
<g id="p2a"><circle class="g" cx="133" cy="818" r="7.5"/></g>
<g id="p2b"><circle class="g" cx="159" cy="851" r="7.5"/></g>
<g id="p2c"><circle class="g" cx="200" cy="853" r="7.5"/></g>
<g id="p2d"><circle class="g" cx="153" cy="891" r="7.5"/></g>
<g id="p3a"><circle class="g" cx="238" cy="817" r="7.5"/></g>
<g id="p3b"><circle class="g" cx="272" cy="842" r="7.5"/></g>
<g id="p3c"><circle class="g" cx="302" cy="867" r="7.5"/></g>
<g id="p4a"><circle class="m" cx="339" cy="818" r="7.5"/></g>
<g id="p4b"><circle class="m" cx="373" cy="842" r="7.5"/></g>
<g id="p4c"><circle class="g" cx="403" cy="867" r="7.5"/></g>
<g id="p5a"><circle class="y" cx="443" cy="818" r="7.5"/></g>
<g id="p5b"><circle class="y" cx="472" cy="844" r="7.5"/></g>
<g id="p5c"><circle class="y" cx="502" cy="871" r="7.5"/></g>
<g id="p6a"><circle class="b" cx="540" cy="818" r="7.5"/></g>
<g id="p6b"><circle class="b" cx="580" cy="826" r="7.5"/></g>
<g id="p6c"><circle class="b" cx="554" cy="856" r="7.5"/></g>
<g id="p7a"><circle class="m" cx="617" cy="818" r="7.5"/></g>
<g id="p7b"><circle class="m" cx="657" cy="826" r="7.5"/></g>
<g id="p7c"><circle class="m" cx="631" cy="856" r="7.5"/></g>
<g id="p8a"><circle class="g" cx="712" cy="818" r="7.5"/></g>
<g id="p8b"><circle class="g" cx="703" cy="858" r="7.5"/></g>
<g id="p8c"><circle class="g" cx="694" cy="897" r="7.5"/></g>
<g id="p9a"><circle class="g" cx="767" cy="818" r="7.5"/></g>
<g id="p9b"><circle class="g" cx="758" cy="858" r="7.5"/></g>
<g id="p9c"><circle class="y" cx="749" cy="897" r="7.5"/></g>
<g id="p10a"><circle class="m" cx="805" cy="818" r="7.5"/></g>
<g id="p10b"><circle class="m" cx="804" cy="858" r="7.5"/></g>
<g id="p11a"><circle class="m" cx="843" cy="818" r="7.5"/></g>
<g id="p11b"><circle class="m" cx="842" cy="858" r="7.5"/></g>
<g id="q1a"><circle class="m" cx="30" cy="934" r="7.5"/></g><g id="q1b"><circle class="m" cx="30" cy="974" r="7.5"/></g>
<g id="q2a"><circle class="g" cx="68" cy="934" r="7.5"/></g><g id="q2b"><circle class="g" cx="68" cy="974" r="7.5"/></g>
<g id="q3a"><circle class="g" cx="107" cy="934" r="7.5"/></g><g id="q3b"><circle class="g" cx="107" cy="974" r="7.5"/></g>
<g id="q4a"><circle class="g" cx="145" cy="934" r="7.5"/></g><g id="q4b"><circle class="g" cx="145" cy="974" r="7.5"/></g>
<g id="q5a"><circle class="g" cx="183" cy="934" r="7.5"/></g><g id="q5b"><circle class="g" cx="183" cy="974" r="7.5"/></g>
<g id="q6a"><circle class="c" cx="222" cy="934" r="7.5"/></g><g id="q6b"><circle class="c" cx="222" cy="974" r="7.5"/></g>
<g id="q7a"><circle class="g" cx="259" cy="934" r="7.5"/></g><g id="q7b"><circle class="g" cx="259" cy="974" r="7.5"/></g>
<g id="q8a"><circle class="g" cx="297" cy="934" r="7.5"/></g><g id="q8b"><circle class="g" cx="297" cy="974" r="7.5"/></g>
<g id="q9a"><circle class="g" cx="336" cy="934" r="7.5"/></g><g id="q9b"><circle class="g" cx="336" cy="974" r="7.5"/></g>
<g id="q10a"><circle class="m" cx="374" cy="934" r="7.5"/></g><g id="q10b"><circle class="m" cx="374" cy="974" r="7.5"/></g>
<g id="q11a"><circle class="m" cx="412" cy="934" r="7.5"/></g><g id="q11b"><circle class="m" cx="412" cy="974" r="7.5"/></g>
<g id="q12a"><circle class="c" cx="451" cy="934" r="7.5"/></g><g id="q12b"><circle class="c" cx="451" cy="974" r="7.5"/></g>
<g id="q13a"><circle class="m" cx="488" cy="934" r="7.5"/></g><g id="q13b"><circle class="m" cx="488" cy="974" r="7.5"/></g>
<g id="label-nac096">
<path d="M370 219L386 212L401 208L401 214L389 217Z" fill="#000"/>
<text class="t" x="406" y="218" font-size="19.5">Cit.12214.1.S1_s_at</text>
<text class="t" x="406" y="245" font-size="19.5">(NAC096)</text>
</g>
<g id="label-eds1">
<path d="M454 486L465 500L470 509L464 511L459 501Z" fill="#000"/>
<text class="t" x="424" y="528" font-size="19.5">Cit.29252.1.S1_s_at</text>
<text class="t" x="424" y="555" font-size="19.5">(EDS1)</text>
</g>
<g id="legend">
<rect x="629" y="423" width="276" height="152" fill="#fff" stroke="#777" stroke-width="1"/>
<circle cx="643" cy="437" r="12" fill="#33c8c8" stroke="#8ab" stroke-width=".8"/>
<circle cx="643" cy="468" r="12" fill="#11ee11" stroke="#8b8" stroke-width=".8"/>
<circle cx="643" cy="499" r="12" fill="#ff66ff" stroke="#b8b" stroke-width=".8"/>
<circle cx="643" cy="531" r="12" fill="#000090" stroke="#669" stroke-width=".8"/>
<circle cx="643" cy="562" r="12" fill="#ffff66" stroke="#bb8" stroke-width=".8"/>
<text class="lt" x="659" y="445">Carbohydrate</text>
<text class="lt" x="659" y="476">Nitrogen &amp; amino acid</text>
<text class="lt" x="659" y="507">Transport</text>
<text class="lt" x="659" y="539">Defense</text>
<text class="lt" x="659" y="570">Hormone</text>
</g>
</svg>
